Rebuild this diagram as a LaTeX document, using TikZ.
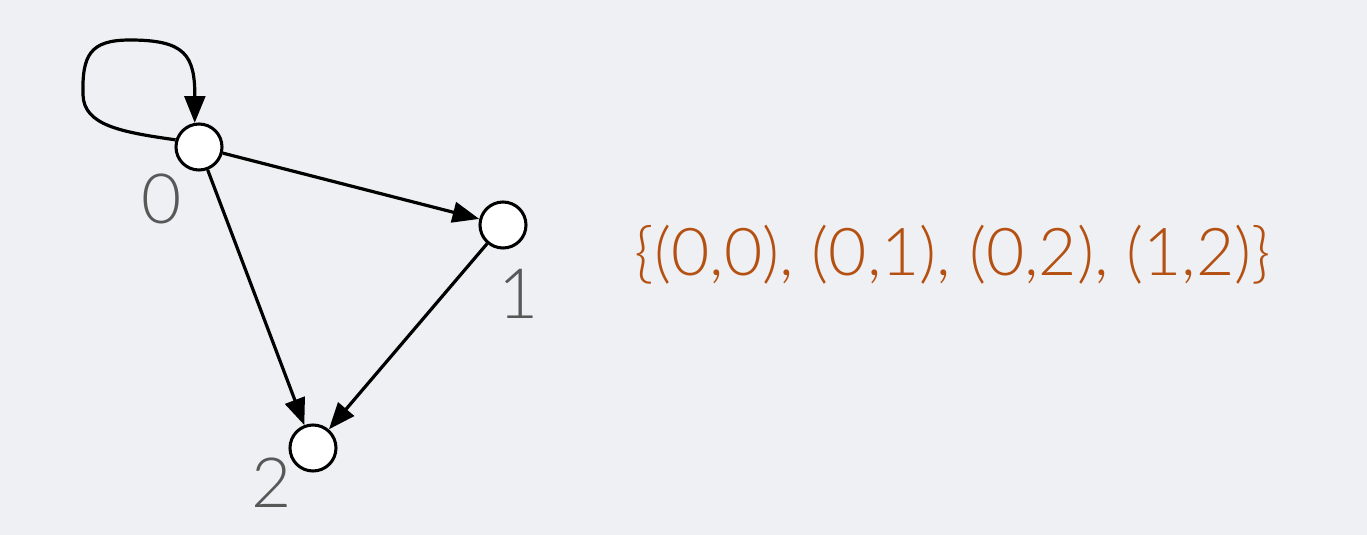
\documentclass[tikz,border=0pt]{standalone}
\usepackage{fontspec}
\setmainfont{Lato}[UprightFont={* Light}]
\usetikzlibrary{arrows.meta}
\definecolor{bg}{RGB}{239,240,243}
\definecolor{lbl}{RGB}{88,88,88}
\definecolor{setc}{RGB}{180,80,18}
\tikzset{
  vtx/.style={circle,draw=black,fill=white,line width=2.3pt,minimum size=34.5pt,inner sep=0pt},
  edge/.style={line width=2.4pt,-{Triangle[length=20pt,width=15.5pt]}},
  vlabel/.style={text=lbl,font=\fontsize{52}{60}\selectfont,inner sep=0pt},
}
\begin{document}
\begin{tikzpicture}[x=0.75pt,y=-0.75pt]
\fill[bg] (0,0) rectangle (1367,535);
\useasboundingbox (0,0) rectangle (1367,535);
\node[vtx] (n0) at (199,147) {};
\node[vtx] (n1) at (503,225) {};
\node[vtx] (n2) at (313,448) {};
\node[vlabel] (l0) at (162,199) {0};
\node[vlabel] (l1) at (519,294) {1};
\node[vlabel] (l2) at (272,483) {2};
\draw[edge] (n0.163) .. controls (120,132) and (84,125) .. (83,95)
  .. controls (82,55) and (90,40) .. (130,40)
  .. controls (185,40) and (195,55) .. (n0.100);
\draw[edge] (n0) -- (n1);
\draw[edge] (n0) -- (n2);
\draw[edge] (n1) -- (n2);
\node[text=setc,font=\fontsize{49.5}{58}\selectfont,inner sep=0pt,anchor=base] (set) at (953,275) {\{(0,0), (0,1), (0,2), (1,2)\}};
\end{tikzpicture}
\end{document}
